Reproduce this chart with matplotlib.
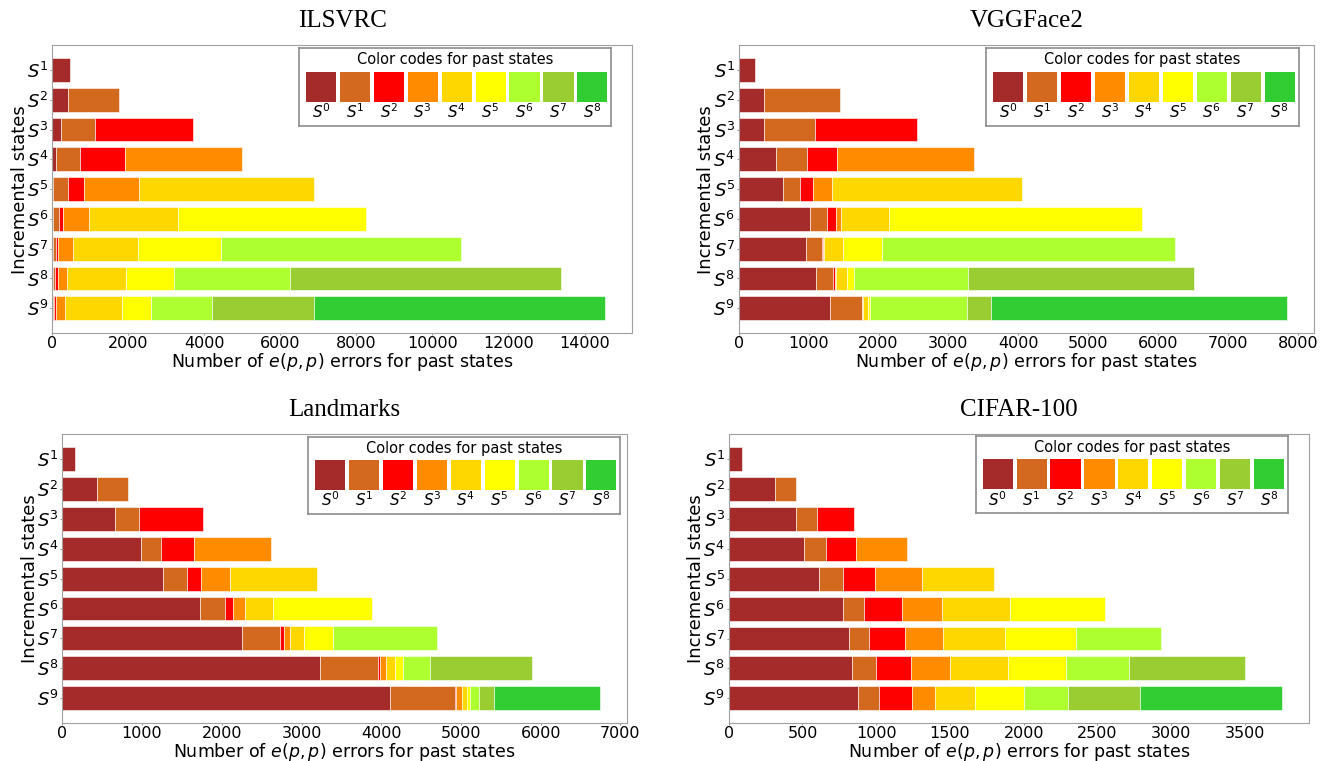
import numpy as np
import matplotlib.pyplot as plt

W, H = 1327, 761

cores = ['brown', 'chocolate', 'red', 'darkorange', 'gold', 'yellow',
         'greenyellow', 'yellowgreen', 'limegreen']
estados = [r'$S^{%d}$' % i for i in range(1, 10)]
estados_passados = [r'$S^{%d}$' % i for i in range(9)]
titulos = ['ILSVRC', 'VGGFace2', 'Landmarks', 'CIFAR-100']

# erros e(p,p) por estado passado (S0, S1, ...) para cada estado incremental
ilsvrc = [
    [470],
    [420, 1330],
    [240, 890, 2565],
    [90, 630, 1180, 3095],
    [30, 390, 410, 1460, 4605],
    [30, 150, 90, 685, 2355, 4940],
    [30, 70, 40, 400, 1725, 2160, 6325],
    [30, 35, 75, 235, 1570, 1245, 3050, 7145],
    [20, 25, 40, 250, 1490, 775, 1600, 2675, 7655],
]
vggface2 = [
    [230],
    [360, 1090],
    [365, 720, 1465],
    [530, 445, 425, 1960],
    [630, 250, 185, 265, 2720],
    [1015, 245, 130, 70, 690, 3615],
    [965, 220, 20, 15, 270, 565, 4190],
    [1105, 250, 18, 22, 160, 95, 1625, 3240],
    [1310, 450, 6, 10, 77, 30, 1380, 340, 4235],
]
landmarks = [
    [155],
    [430, 400],
    [665, 295, 810],
    [990, 245, 415, 965],
    [1260, 300, 180, 360, 1095],
    [1725, 310, 110, 145, 355, 1235],
    [2250, 475, 60, 65, 180, 365, 1310],
    [3235, 725, 30, 75, 105, 100, 345, 1275],
    [4105, 815, 12, 78, 60, 45, 110, 195, 1325],
]
cifar100 = [
    [90],
    [313, 143],
    [456, 145, 249],
    [509, 148, 207, 346],
    [615, 157, 220, 316, 492],
    [774, 140, 260, 274, 459, 645],
    [816, 134, 247, 254, 425, 478, 579],
    [839, 159, 238, 262, 395, 391, 428, 791],
    [875, 143, 223, 157, 271, 330, 299, 489, 962],
]

# posicoes em pixels: (esquerda, direita, topo, base)
caixas = [(52.3, 632.3, 45, 333.3), (738.7, 1314, 45, 333.3),
          (62.3, 627, 434.3, 723), (728.7, 1309.3, 434.3, 723.3)]
legendas = [(299, 611, 48, 126), (986, 1298.5, 48, 126),
            (308.3, 620, 436.7, 514), (975.7, 1287.7, 436, 513.3)]


def px(l, r, t, b):
    return [l / W, 1 - b / H, (r - l) / W, (b - t) / H]


fig = plt.figure(figsize=(W / 100, H / 100), dpi=100)


def plot_painel(caixa, legenda, titulo, dados):
    ax = fig.add_axes(px(*caixa))
    for i, linha in enumerate(dados):
        esquerda = np.concatenate([[0], np.cumsum(linha)[:-1]])
        ax.barh(i + 1, linha, left=esquerda, height=0.8,
                color=cores[:len(linha)], edgecolor='white', linewidth=0.4)
    ax.set_yticks(np.arange(1, 10))
    ax.set_yticklabels(estados, fontsize=13)
    ax.invert_yaxis()
    ax.tick_params(axis='x', labelsize=11.5, length=1.5, pad=0.7, color='#999999')
    ax.tick_params(axis='y', length=1.5, pad=1, color='#999999')
    ax.set_xlabel(r'Number of $e(p,p)$ errors for past states', fontsize=12.5, labelpad=0)
    ax.set_ylabel('Incremental states', fontsize=13, labelpad=-1.5)
    ax.set_title(titulo, fontsize=18, family='Liberation Serif', pad=13)
    for s in ax.spines.values():
        s.set_color('#a0a0a0')
        s.set_linewidth(0.8)

    # caixa com o codigo de cores
    lg = fig.add_axes(px(*legenda))
    lg.bar(np.arange(9), 30, bottom=23.7, width=0.89, color=cores)
    lg.set_xlim(-0.65, 8.55)
    lg.set_ylim(78, 0)
    for k, rot in enumerate(estados_passados):
        lg.text(k, 64, rot, ha='center', va='center', fontsize=11)
    lg.text(0.5, 1 - 11.5 / 78, 'Color codes for past states', transform=lg.transAxes,
            ha='center', va='center', fontsize=11.7, fontstretch='condensed')
    lg.set_xticks([])
    lg.set_yticks([])
    for s in lg.spines.values():
        s.set_color('#8c8c8c')
        s.set_linewidth(1.2)


for caixa, legenda, titulo, dados in zip(caixas, legendas, titulos,
                                         [ilsvrc, vggface2, landmarks, cifar100]):
    plot_painel(caixa, legenda, titulo, dados)

fig.savefig('out.png', dpi=100)
